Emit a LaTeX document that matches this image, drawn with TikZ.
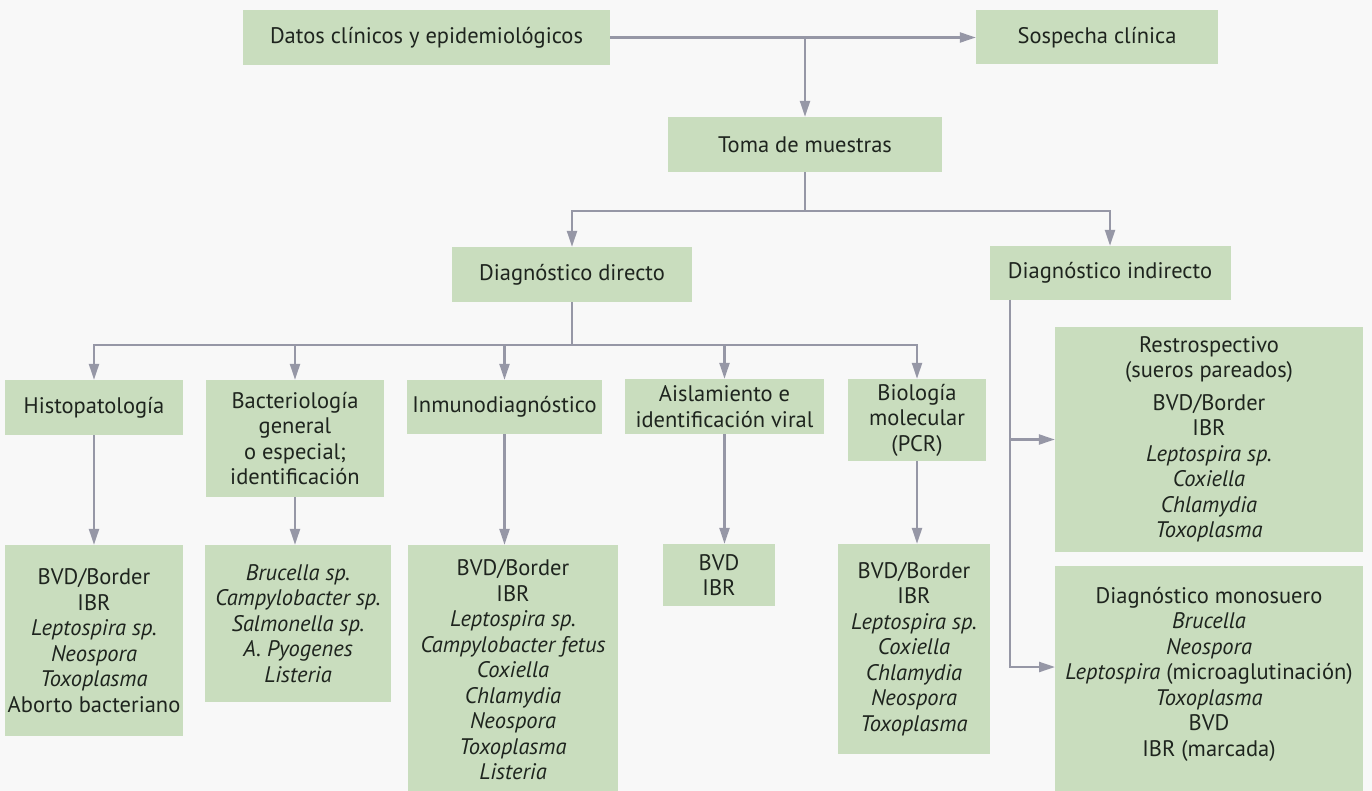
\documentclass[tikz,border=0pt]{standalone}
\usepackage{fontspec}
\setmainfont{PT Sans}
\usetikzlibrary{arrows.meta}
\definecolor{boxfill}{RGB}{201,221,190}
\definecolor{linecol}{RGB}{150,151,166}
\definecolor{txt}{RGB}{30,36,30}
\definecolor{bg}{RGB}{248,248,248}
\tikzset{
  box/.style={fill=boxfill, draw=none, inner sep=0pt, align=center, text=txt,
    font=\fontsize{22.5}{25.5}\selectfont},
  conn/.style={draw=linecol, line width=2.3pt},
  arr/.style={conn, -{Triangle[length=16pt,width=10pt]}},
}
\begin{document}
\begin{tikzpicture}[x=1pt,y=-1pt]
\fill[bg] (0,0) rectangle (1372,791);
\useasboundingbox (0,0) rectangle (1372,791);

% top level
\node[box, minimum width=367pt, minimum height=55pt] (datos) at (426.5,37.5) {Datos clínicos y epidemiológicos};
\node[box, minimum width=242pt, minimum height=54pt] (sosp) at (1097,37.5) {Sospecha clínica};
\node[box, minimum width=274pt, minimum height=55pt] (toma) at (805,144.5) {Toma de muestras};
\node[box, minimum width=240pt, minimum height=55pt] (dd) at (572,274.5) {Diagnóstico directo};
\node[box, minimum width=241pt, minimum height=54pt] (di) at (1110,273) {Diagnóstico indirecto};

% second level
\node[box, minimum width=178pt, minimum height=55pt] (histo) at (94,407.5) {Histopatología};
\node[box, minimum width=178pt, minimum height=117pt] (bact) at (295,438.5) {Bacteriología\\general\\o especial;\\identificación};
\node[box, minimum width=195pt, minimum height=54pt] (inmu) at (504.5,407) {Inmunodiagnóstico};
\node[box, minimum width=199pt, minimum height=55pt] (aisl) at (724.5,406.5) {Aislamiento e\\identificación viral};
\node[box, minimum width=138pt, minimum height=82pt] (biol) at (917,420) {Biología\\molecular\\(PCR)};

% results
\node[box, minimum width=178pt, minimum height=191pt] (rhisto) at (94,640.5) {BVD/Border\\IBR\\\textit{Leptospira sp.}\\\textit{Neospora}\\\textit{Toxoplasma}\\Aborto bacteriano};
\node[box, minimum width=186pt, minimum height=157pt] (rbact) at (298,623.5) {\textit{Brucella sp.}\\\textit{Campylobacter sp.}\\\textit{Salmonella sp.}\\\textit{A. Pyogenes}\\\textit{Listeria}};
\node[box, minimum width=210pt, minimum height=250pt] (rinmu) at (513,670) {BVD/Border\\IBR\\\textit{Leptospira sp.}\\\textit{Campylobacter fetus}\\\textit{Coxiella}\\\textit{Chlamydia}\\\textit{Neospora}\\\textit{Toxoplasma}\\\textit{Listeria}};
\node[box, minimum width=112pt, minimum height=62pt] (raisl) at (719,575) {BVD\\IBR};
\node[box, minimum width=152pt, minimum height=210pt] (rbiol) at (914,649) {BVD/Border\\IBR\\\textit{Leptospira sp.}\\\textit{Coxiella}\\\textit{Chlamydia}\\\textit{Neospora}\\\textit{Toxoplasma}};
\node[box, minimum width=308pt, minimum height=225pt] (retro) at (1209,439.5) {Restrospectivo\\(sueros pareados)\\[7pt]BVD/Border\\IBR\\\textit{Leptospira sp.}\\\textit{Coxiella}\\\textit{Chlamydia}\\\textit{Toxoplasma}};
\node[box, minimum width=308pt, minimum height=216pt] (mono) at (1209,674) {Diagnóstico monosuero\\\textit{Brucella}\\\textit{Neospora}\\\textit{Leptospira} (microaglutinación)\\\textit{Toxoplasma}\\BVD\\IBR (marcada)};
\fill[boxfill] (mono.south west) rectangle (1363,791);

% connectors
\coordinate (j1) at (805,37.5);
\draw[arr] (datos.east) -- (sosp.west);
\draw[arr] (j1) -- (toma.north);

\coordinate (j2) at (805,211);
\draw[conn] (toma.south) -- (j2);
\draw[arr] (j2) -| (dd.north);
\draw[arr] (j2) -| (di.north);

\coordinate (j3) at (572,345);
\draw[conn] (dd.south) -- (j3);
\draw[arr] (j3) -| (histo.north);
\draw[arr] (j3) -| (bact.north);
\draw[arr] (j3) -| (inmu.north);
\draw[arr] (j3) -| (aisl.north);
\draw[arr] (j3) -| (biol.north);

\draw[arr] (histo.south) -- (histo.south |- rhisto.north);
\draw[arr] (bact.south) -- (bact.south |- rbact.north);
\draw[arr] (inmu.south) -- (inmu.south |- rinmu.north);
\draw[arr] (aisl.south) -- (aisl.south |- raisl.north);
\draw[arr] (biol.south) -- (biol.south |- rbiol.north);

\coordinate (j4) at (1010,300);
\coordinate (m4) at (1055,667);
\draw[arr] (j4) |- (retro.west);
\draw[arr] (j4) |- (m4);
\end{tikzpicture}
\end{document}
